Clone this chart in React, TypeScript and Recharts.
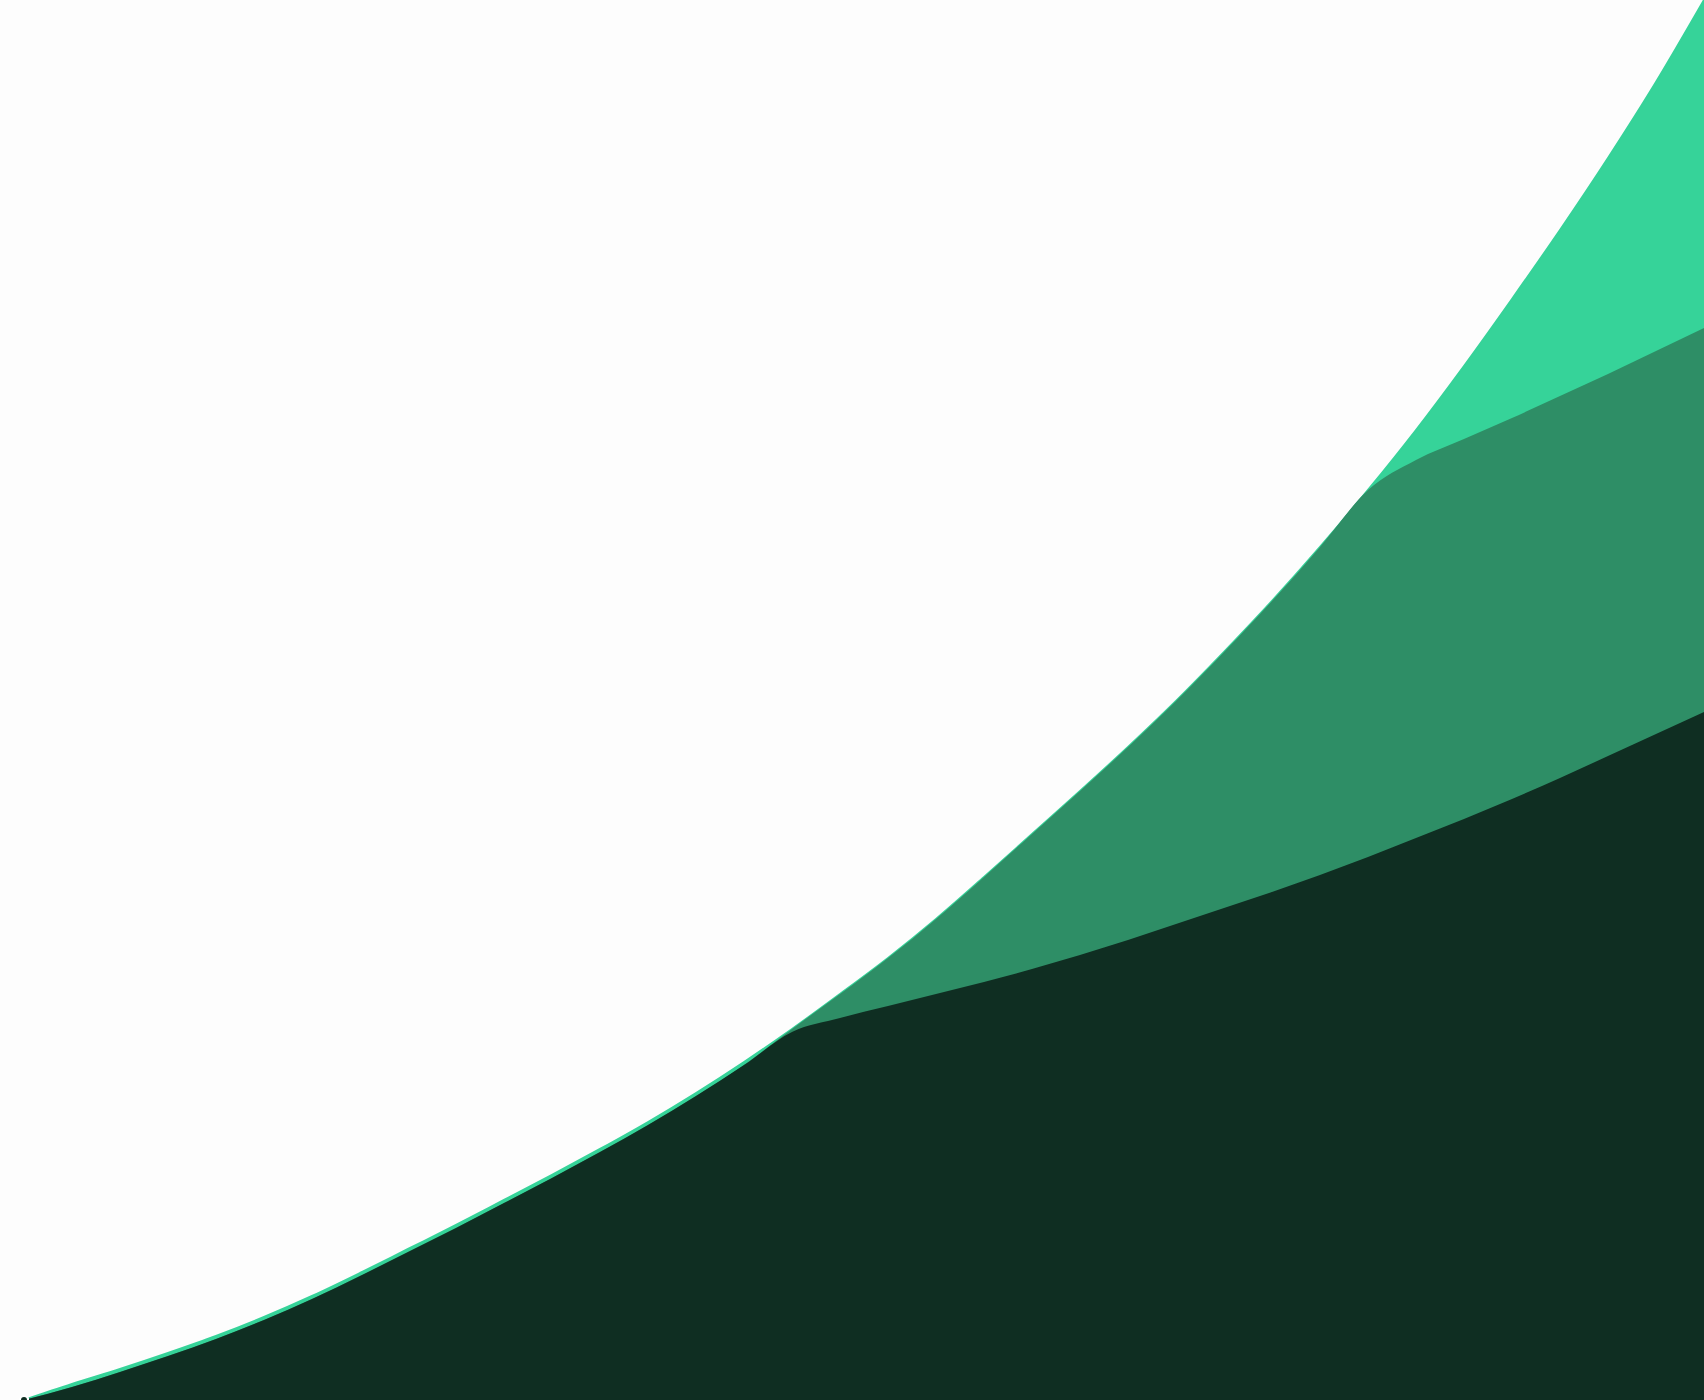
import { Area, AreaChart, XAxis, YAxis } from "recharts";

const days = [
  2, 6, 10, 14, 18, 22, 26, 30, 34, 38, 42, 46, 50, 54, 58, 62, 66, 70, 74, 78,
  82, 86, 90, 94, 98, 102, 106, 110, 114, 118, 122, 126, 130, 134, 138, 142,
];

const total = [
  0, 8, 15.5, 23.5, 32, 41.5, 52, 63.5, 75.5, 87.5, 100, 112.5, 125.5, 139,
  153.5, 169, 185.5, 203, 221, 240.5, 261.5, 283, 304.5, 326.5, 349.5, 374,
  399.5, 426.5, 455, 485, 517, 550.5, 585, 621, 659, 700,
];

const active = [
  0, 6.5, 14, 22, 30.5, 40, 50.5, 62, 74, 86, 98.5, 111, 124, 137.5, 152,
  167.5, 185.5, 203, 221, 240.5, 261.5, 283, 304.5, 326.5, 349.5, 374, 399.5,
  426.5, 455, 470, 480.5, 491, 502, 513, 524.5, 536,
];

const retained = [
  0, 6.5, 14, 22, 30.5, 40, 50.5, 62, 74, 86, 98.5, 111, 124, 137.5, 152,
  167.5, 184, 191, 197, 203, 209, 215.5, 222.5, 230, 238, 246, 254, 262.5,
  271.5, 281, 290.5, 300.5, 311, 322, 333, 344,
];

const data = days.map((day, i) => ({
  day,
  total: total[i],
  active: active[i],
  retained: retained[i],
}));

export default function App() {
  return (
    <div style={{ position: "absolute", left: 0, top: 0, background: "#fdfdfd" }}>
      <AreaChart
        width={1704}
        height={1400}
        data={data}
        margin={{ top: 0, right: 0, bottom: 0, left: 0 }}
      >
        <XAxis dataKey="day" type="number" domain={[0, 142]} hide />
        <YAxis type="number" domain={[0, 700]} hide />
        <Area
          type="monotone"
          dataKey="total"
          fill="#36d399"
          fillOpacity={1}
          stroke="#36d399"
          strokeWidth={2}
          isAnimationActive={false}
        />
        <Area
          type="monotone"
          dataKey="active"
          fill="#2e8e66"
          fillOpacity={1}
          stroke="none"
          isAnimationActive={false}
        />
        <Area
          type="monotone"
          dataKey="retained"
          fill="#0f2e22"
          fillOpacity={1}
          stroke="none"
          isAnimationActive={false}
        />
      </AreaChart>
    </div>
  );
}
